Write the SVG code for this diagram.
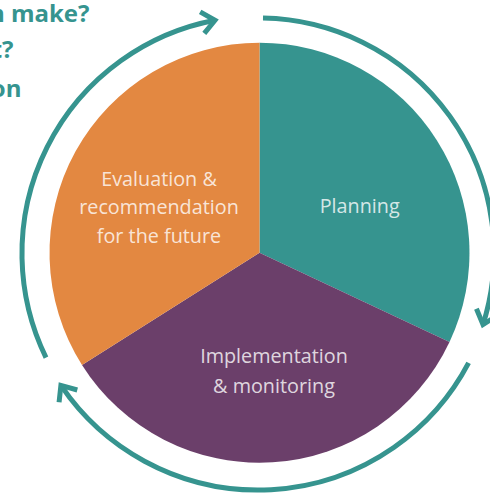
<svg xmlns="http://www.w3.org/2000/svg" width="490" height="493" viewBox="0 0 490 493">
  <style>
    .ring { fill: none; stroke: #36948F; stroke-width: 5; stroke-linecap: butt; }
    .head { fill: none; stroke: #36948F; stroke-width: 5; stroke-linejoin: miter; stroke-linecap: butt; }
    .label { font-family: "Open Sans", "Liberation Sans", sans-serif; font-weight: 400; font-size: 19.8px; fill: #ffffff; fill-opacity: 0.8; text-anchor: middle; }
    .q { font-family: "Open Sans", "Liberation Sans", sans-serif; font-weight: 700; font-size: 24px; fill: #36948F; text-anchor: end; }
  </style>
  <defs>
    <marker id="arrow" markerUnits="userSpaceOnUse" viewBox="-20 -20 40 40" markerWidth="40" markerHeight="40" refX="0" refY="0" orient="auto" overflow="visible">
      <path class="head" d="M -13 -11 L 0 0 L -13 11"/>
    </marker>
  </defs>
  <rect width="490" height="493" fill="#ffffff"/>

  <g id="questions">
    <text class="q" x="89.5" y="21.5">n make?</text>
    <text class="q" x="13.5" y="58">t?</text>
    <text class="q" x="21.5" y="96.5">on</text>
  </g>

  <g id="node-planning">
    <path d="M 259.5 252.7 L 259.5 42.7 A 210 210 0 0 1 449.5 342.1 Z" fill="#36948F"/>
    <text class="label" x="359.7" y="213.3">Planning</text>
  </g>
  <g id="node-implementation">
    <path d="M 259.5 252.7 L 449.5 342.1 A 210 210 0 0 1 82 364.9 Z" fill="#6B3F6A"/>
    <text class="label" x="274" y="363.3">Implementation</text>
    <text class="label" x="274" y="393.3">&amp; monitoring</text>
  </g>
  <g id="node-evaluation">
    <path d="M 259.5 252.7 L 82 364.9 A 210 210 0 0 1 259.5 42.7 Z" fill="#E38841"/>
    <text class="label" x="159" y="185.5">Evaluation &amp;</text>
    <text class="label" x="159" y="214">recommendation</text>
    <text class="label" x="159" y="242.5">for the future</text>
  </g>

  <g id="connectors">
    <path class="ring" marker-end="url(#arrow)" d="M 46 357.6 A 237.5 237.5 0 0 1 215 20.2"/>
    <path class="ring" marker-end="url(#arrow)" d="M 263 18 A 235.5 235.5 0 0 1 483 324.5"/>
    <path class="ring" marker-end="url(#arrow)" d="M 468.6 362.9 A 238 238 0 0 1 60.9 385.4"/>
  </g>
</svg>
